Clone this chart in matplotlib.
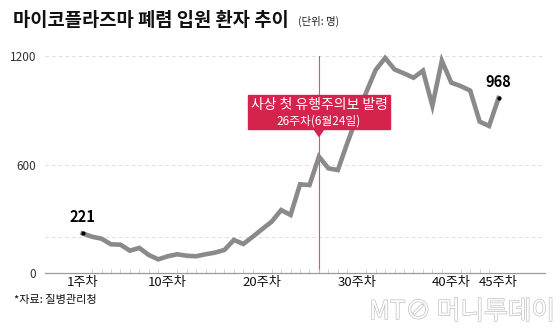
import matplotlib.pyplot as plt
import matplotlib.patheffects as pe
from matplotlib.patches import FancyBboxPatch, Polygon

plt.rcParams['font.family'] = ['Noto Sans CJK KR', 'DejaVu Sans']

# 주차별 마이코플라즈마 폐렴 입원 환자 수 (명)
weeks = list(range(1, 46))
patients = [221, 203, 192, 161, 159, 126, 141, 102, 78, 95,
            106, 98, 95, 106, 115, 130, 185, 163, 203, 245,
            286, 350, 323, 492, 488, 645, 580, 571, 720, 860,
            1000, 1123, 1189, 1126, 1104, 1080, 1119, 926, 1174, 1053,
            1034, 1009, 838, 814, 968]

tick_weeks = [1, 10, 20, 30, 40, 45]
tick_labels = [f"{w}주차" for w in tick_weeks]
alert_week = 26

fig = plt.figure(figsize=(5.6, 3.33), dpi=100)
ax = fig.add_axes([0.080, 0.1787, 0.893, 0.6531])

# grid
for yv in [200, 600, 1200]:
    ax.axhline(yv, color='#dddddd', lw=0.8, ls=(0, (3, 3)), zorder=0)

# 유행주의보 발령 시점
ax.axvline(alert_week, ymin=0, ymax=1, color='#c9587a', lw=0.8, zorder=1)

ax.plot(weeks, patients, color='#8a8a8a', lw=3.3, solid_joinstyle='miter',
        zorder=3, clip_on=False)

# 처음과 마지막 값
for w, v in [(weeks[0], patients[0]), (weeks[-1], patients[-1])]:
    ax.plot(w, v, 'o', color='black', ms=2, zorder=4, clip_on=False)
    ax.text(w, v + 45, f"{v}", ha='center', va='bottom', fontsize=10.5,
            fontweight='bold', color='black')

ax.set_xlim(-3, 49.9)
ax.set_ylim(0, 1200)

ax.set_yticks([0, 600, 1200])
ax.set_yticklabels(['0', '600', '1200'], fontsize=8.5, color='#333333')
ax.set_xticks(tick_weeks)
ax.set_xticklabels(tick_labels, fontsize=9.5, color='#111111')
ax.set_xticks(weeks, minor=True)
ax.tick_params(axis='x', which='major', length=0, pad=2)
ax.tick_params(axis='x', which='minor', direction='in', length=3,
               color='#cccccc', width=0.6)
ax.tick_params(axis='y', length=0, pad=6)

for s in ['top', 'right', 'left']:
    ax.spines[s].set_visible(False)
ax.spines['bottom'].set_color('#999999')
ax.spines['bottom'].set_linewidth(0.9)

# 주석 상자
box_x0, box_x1 = 248 / 560, 390 / 560
box_y0, box_y1 = 1 - 129 / 333, 1 - 95 / 333
box_color = '#d4244e'
fig.patches.append(FancyBboxPatch((box_x0, box_y0), box_x1 - box_x0,
                                  box_y1 - box_y0, boxstyle='square,pad=0',
                                  transform=fig.transFigure, color=box_color,
                                  zorder=5))
px = ax.transData.transform((alert_week, 0))[0] / fig.bbox.width
fig.patches.append(Polygon([(px - 0.009, box_y0), (px + 0.009, box_y0),
                            (px, box_y0 - 0.022)], closed=True,
                           transform=fig.transFigure, color=box_color,
                           zorder=5))
fig.text((box_x0 + box_x1) / 2, 1 - 105 / 333, '사상 첫 유행주의보 발령',
         ha='center', va='center', fontsize=10, color='white', zorder=6)
fig.text((box_x0 + box_x1) / 2, 1 - 121 / 333, '26주차(6월24일)',
         ha='center', va='center', fontsize=8.5, color='white', zorder=6)

# 제목
fig.text(13 / 560, 1 - 20 / 333, '마이코플라즈마 폐렴 입원 환자 추이',
         ha='left', va='center', fontsize=13.5, fontweight='bold',
         color='#111111')
fig.text(298 / 560, 1 - 21 / 333, '(단위: 명)', ha='left', va='center',
         fontsize=7.5, color='#222222')

fig.text(14 / 560, 1 - 300 / 333, '*자료: 질병관리청', ha='left',
         va='center', fontsize=8, color='#111111')

# 로고
fig.text(555 / 560, 1 - 312 / 333, 'MT⊘ 머니투데이', ha='right',
         va='center', fontsize=18.5, color='white', fontweight='light',
         path_effects=[pe.Stroke(linewidth=1.0, foreground='#c0c0c0'),
                       pe.Normal()])

fig.savefig('out.png', dpi=100)
